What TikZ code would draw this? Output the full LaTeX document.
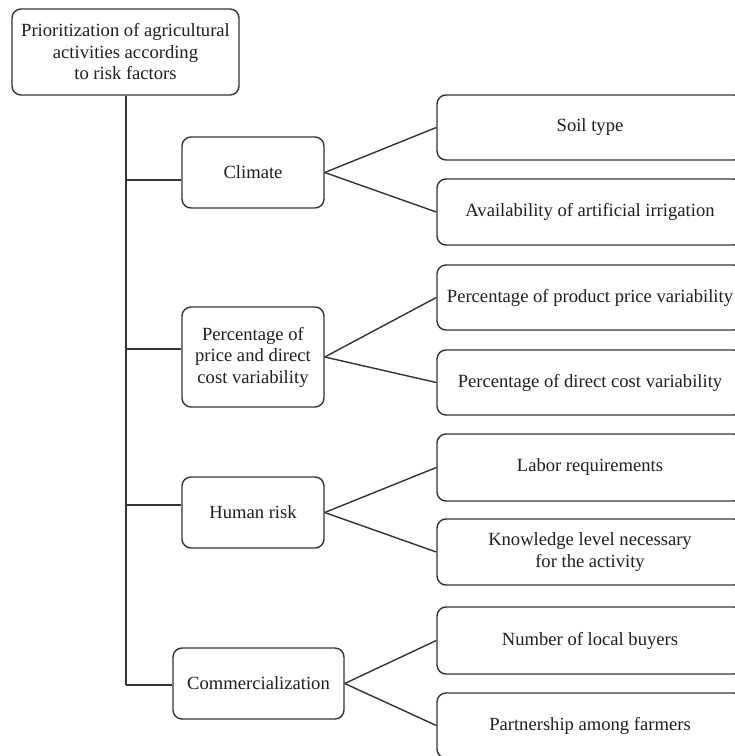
\documentclass[tikz,border=0pt]{standalone}
\usepackage{fontspec}
\setmainfont{Liberation Serif}
\begin{document}
\begin{tikzpicture}[x=1pt,y=-1pt,
  box/.style={draw=linegray, line width=1.4pt, rounded corners=9pt, inner sep=0pt,
    align=center, text=black!88, font=\fontsize{18.6}{21.5}\selectfont},
  conn/.style={draw=linegray, line width=1.4pt}]
\definecolor{linegray}{HTML}{333333}
\useasboundingbox (0,0) rectangle (735,756);
\fill[white] (0,0) rectangle (735,756);

% root
\node[box, minimum width=227pt, minimum height=86pt] (root) at (125.5,52) {Prioritization of agricultural\\activities according\\to risk factors};

% second level
\node[box, minimum width=142pt, minimum height=71pt] (clim) at (253,172.5) {Climate};
\node[box, minimum width=142pt, minimum height=100pt] (pct) at (253,357) {Percentage of\\price and direct\\cost variability};
\node[box, minimum width=142pt, minimum height=71pt] (hum) at (253,512.5) {Human risk};
\node[box, minimum width=171pt, minimum height=71pt] (com) at (258.5,683.5) {Commercialization};

% third level
\node[box, minimum width=306pt, minimum height=65pt] (soil) at (590,127.5) {Soil type};
\node[box, minimum width=306pt, minimum height=66pt] (irr) at (590,212) {Availability of artificial irrigation};
\node[box, minimum width=306pt, minimum height=65pt] (pprod) at (590,297.5) {Percentage of product price variability};
\node[box, minimum width=306pt, minimum height=65pt] (pdir) at (590,382.5) {Percentage of direct cost variability};
\node[box, minimum width=306pt, minimum height=67pt] (lab) at (590,467.5) {Labor requirements};
\node[box, minimum width=306pt, minimum height=66pt] (know) at (590,552) {Knowledge level necessary\\for the activity};
\node[box, minimum width=306pt, minimum height=67pt] (buy) at (590,640.5) {Number of local buyers};
\node[box, minimum width=306pt, minimum height=65pt] (part) at (590,725.5) {Partnership among farmers};

% trunk
\coordinate (t1) at (126,180);
\coordinate (t2) at (126,349);
\coordinate (t3) at (126,505);
\coordinate (t4) at (126,685);
\draw[conn] (root.south -| t4) -- (t4);
\draw[conn] (t1) -- (t1 -| clim.west);
\draw[conn] (t2) -- (t2 -| pct.west);
\draw[conn] (t3) -- (t3 -| hum.west);
\draw[conn] (t4) -- (t4 -| com.west);

% fans
\draw[conn] (clim.east) -- (soil.west);
\draw[conn] (clim.east) -- (irr.west);
\draw[conn] (pct.east) -- (pprod.west);
\draw[conn] (pct.east) -- (pdir.west);
\draw[conn] (hum.east) -- (lab.west);
\draw[conn] (hum.east) -- (know.west);
\draw[conn] (com.east) -- (buy.west);
\draw[conn] (com.east) -- (part.west);
\end{tikzpicture}
\end{document}
